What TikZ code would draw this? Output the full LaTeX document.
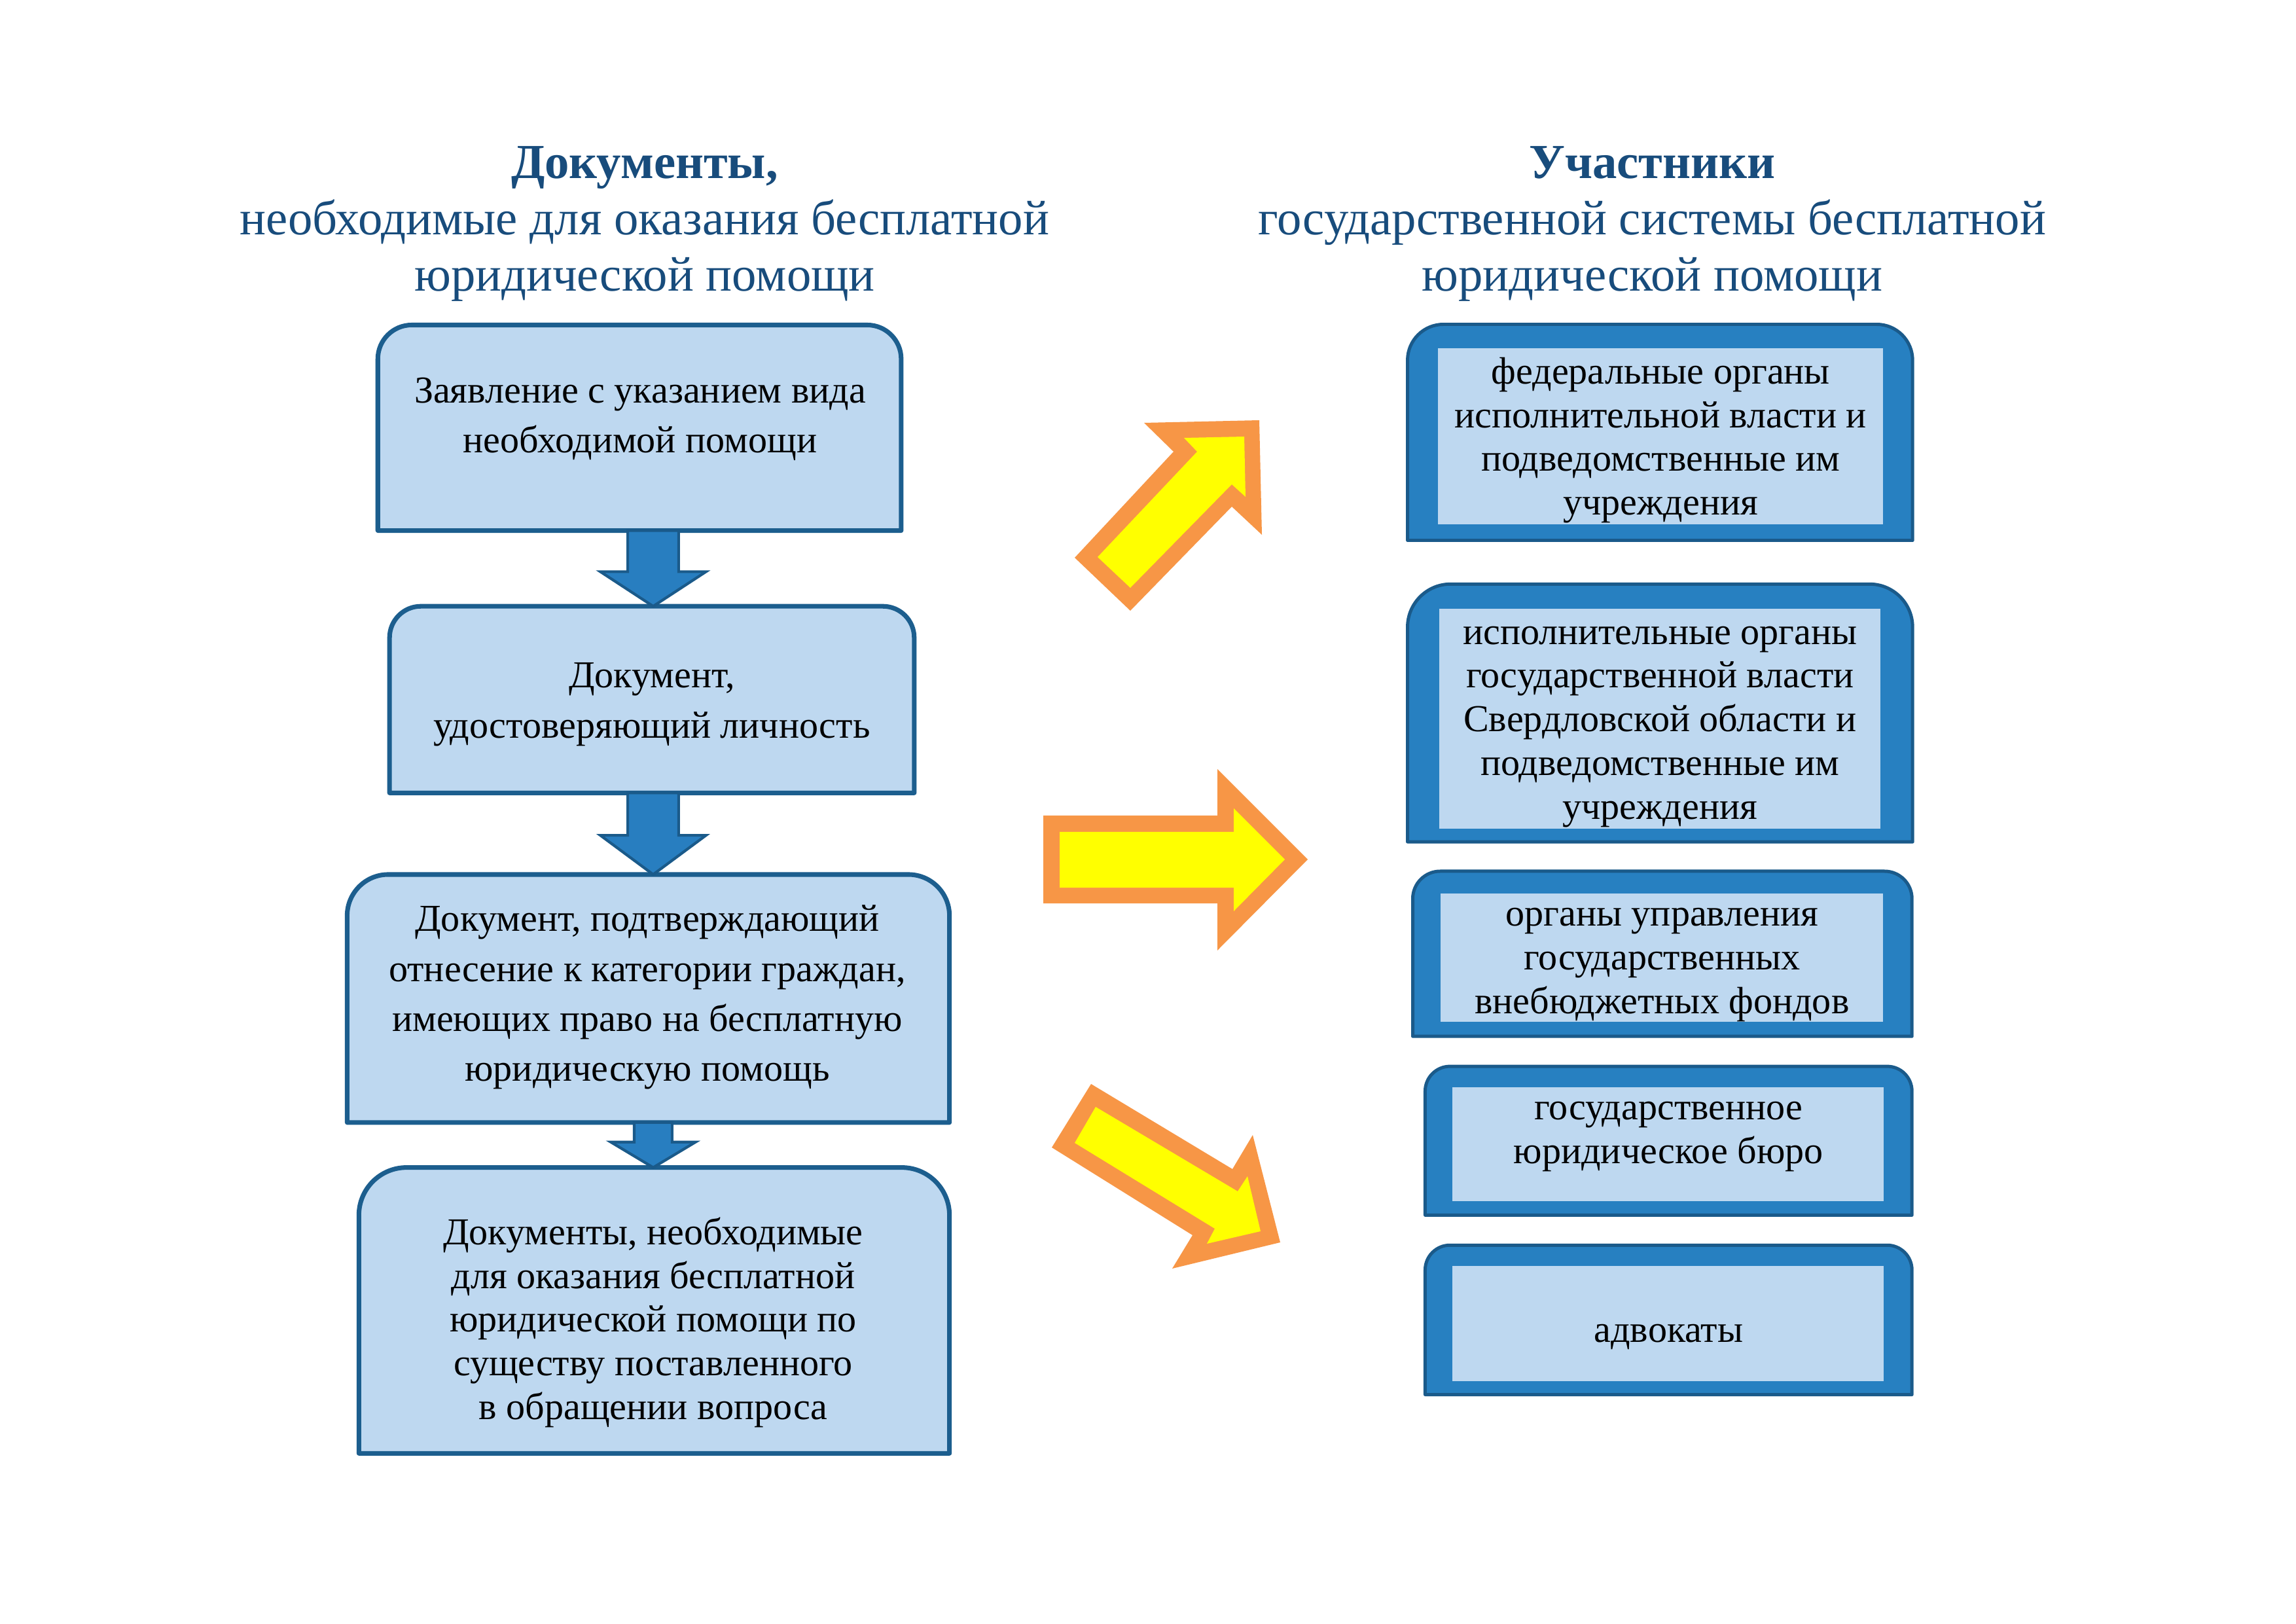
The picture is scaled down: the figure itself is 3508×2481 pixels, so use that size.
\documentclass[tikz,border=0pt]{standalone}
\usepackage{fontspec}
\setmainfont{Liberation Serif}
\usetikzlibrary{calc}
\definecolor{lfill}{RGB}{190,216,240}
\definecolor{lborder}{RGB}{28,94,142}
\definecolor{ofill}{RGB}{39,128,193}
\definecolor{oborder}{RGB}{26,90,138}
\definecolor{afill}{RGB}{40,126,192}
\definecolor{ttlc}{RGB}{24,76,124}
\definecolor{orng}{RGB}{247,150,70}
\definecolor{ylw}{RGB}{255,255,0}
\newcommand{\fs}{\rule{0pt}{12pt}}
\newcommand{\ft}{\rule{0pt}{15pt}}
% top-rounded box: style, x1, y1, x2, y2, r
\newcommand{\tbox}[6]{\draw[#1] (#2,#5) -- (#2,#3+#6) arc[start angle=180,end angle=270,radius=#6] -- (#4-#6,#3) arc[start angle=270,end angle=360,radius=#6] -- (#4,#5) -- cycle;}
% down arrow: from, to, half shaft, half head, head length
\newcommand{\dnarr}[5]{\draw[darr] ($(#1)+(-#3,0)$) -- ($(#1)+(#3,0)$) -- ($(#2)+(#3,-#5)$) -- ($(#2)+(#4,-#5)$) -- (#2) -- ($(#2)+(-#4,-#5)$) -- ($(#2)+(-#3,-#5)$) -- cycle;}
\begin{document}
\begin{tikzpicture}[x=0.084664mm,y=-0.084664mm,
  lbox/.style={fill=lfill,draw=lborder,line width=1.7pt,line join=round},
  obox/.style={fill=ofill,draw=oborder,line width=1.2pt,line join=round},
  ibox/.style={fill=lfill,draw=none},
  darr/.style={fill=afill,draw=oborder,line width=1pt,line join=miter},
  txtA/.style={inner sep=0pt,anchor=north,align=center,font=\fontsize{14}{18.4}\selectfont},
  txtB/.style={inner sep=0pt,anchor=north,align=center,font=\fontsize{14}{16.1}\selectfont},
  ttl/.style={inner sep=0pt,anchor=north,align=center,text=ttlc,font=\fontsize{18}{20.8}\selectfont}]
\useasboundingbox[fill=white] (0,0) rectangle (3508,2481);
\begin{scope}[scale=0.997]
% titles
\node[ttl] (tl) at (988,272-62.3) {\ft\textbf{Документы,}\\необходимые для оказания бесплатной\\юридической помощи};
\node[ttl] (tr) at (2532,272-62.3) {\ft\textbf{Участники}\\государственной системы бесплатной\\юридической помощи};

% left boxes
\tbox{lbox}{579}{498}{1381}{813}{52}
\tbox{lbox}{597}{929}{1401}{1215}{48}
\tbox{lbox}{532}{1340}{1455}{1720}{63}
\tbox{lbox}{550}{1789}{1455}{2227}{73}

\coordinate (b1s) at (1001,813);
\coordinate (b2n) at (1001,929);
\coordinate (b2s) at (1001,1215);
\coordinate (b3n) at (1001,1340);
\coordinate (b3s) at (1001,1720);
\coordinate (b4n) at (1001,1789);

\dnarr{b1s}{b2n}{39}{81}{53}
\dnarr{b2s}{b3n}{39}{81}{60}
\dnarr{b3s}{b4n}{29}{65}{39}

\node[txtA] (l1) at (981,616-49.8) {\fs Заявление с указанием вида\\необходимой помощи};
\node[txtA] (l2) at (999,1053-49.8) {\fs Документ,\\удостоверяющий личность};
\node[txtA] (l3) at (992,1426-49.8) {\fs Документ, подтверждающий\\отнесение к категории граждан,\\имеющих право на бесплатную\\юридическую помощь};
\node[txtB] (l4) at (1001,1906-49.8) {\fs Документы, необходимые\\для оказания бесплатной\\юридической помощи по\\существу поставленного\\в обращении вопроса};

% right boxes
\tbox{obox}{2157}{497}{2931}{828}{55}
\fill[lfill] (2204,534) rectangle (2886,803);
\tbox{obox}{2157}{895}{2931}{1290}{66}
\fill[lfill] (2206,933) rectangle (2882,1270);
\tbox{obox}{2165}{1335}{2930}{1588}{42}
\fill[lfill] (2208,1369) rectangle (2886,1566);
\tbox{obox}{2184}{1634}{2930}{1862}{38}
\fill[lfill] (2226,1666) rectangle (2887,1841);
\tbox{obox}{2184}{1908}{2930}{2137}{38}
\fill[lfill] (2226,1940) rectangle (2887,2116);

\node[txtB] (r1) at (2545,587-49.8) {\fs федеральные органы\\исполнительной власти и\\подведомственные им\\учреждения};
\node[txtB] (r2) at (2544,986-49.8) {\fs исполнительные органы\\государственной власти\\Свердловской области и\\подведомственные им\\учреждения};
\node[txtB] (r3) at (2547,1418-49.8) {\fs органы управления\\государственных\\внебюджетных фондов};
\node[txtB] (r4) at (2557,1715-49.8) {\fs государственное\\юридическое бюро};
\node[txtB] (r5) at (2557,2056-49.8) {\fs адвокаты};
\end{scope}

% yellow arrows
\fill[orng] (1748,646) -- (1924,642) -- (1928,817) -- (1882,774) -- (1727,933) -- (1642,852) -- (1793,690) -- cycle;
\fill[ylw] (1809,669) -- (1901,667) -- (1903,759) -- (1882,740) -- (1727,898) -- (1677,851) -- (1829,690) -- cycle;

\fill[orng] (1594,1246) -- (1860,1246) -- (1860,1175) -- (1998,1313) -- (1860,1452) -- (1860,1380) -- (1594,1380) -- cycle;
\fill[ylw] (1619,1271) -- (1885,1271) -- (1885,1235) -- (1963,1313) -- (1885,1392) -- (1885,1356) -- (1619,1356) -- cycle;

\fill[orng] (1667,1656) -- (1883,1786) -- (1914,1734) -- (1956,1898) -- (1791,1938) -- (1822,1887) -- (1607,1753) -- cycle;
\fill[ylw] (1674,1691) -- (1891,1820) -- (1906,1797) -- (1926,1881) -- (1844,1900) -- (1856,1877) -- (1642,1746) -- cycle;
\end{tikzpicture}
\end{document}
